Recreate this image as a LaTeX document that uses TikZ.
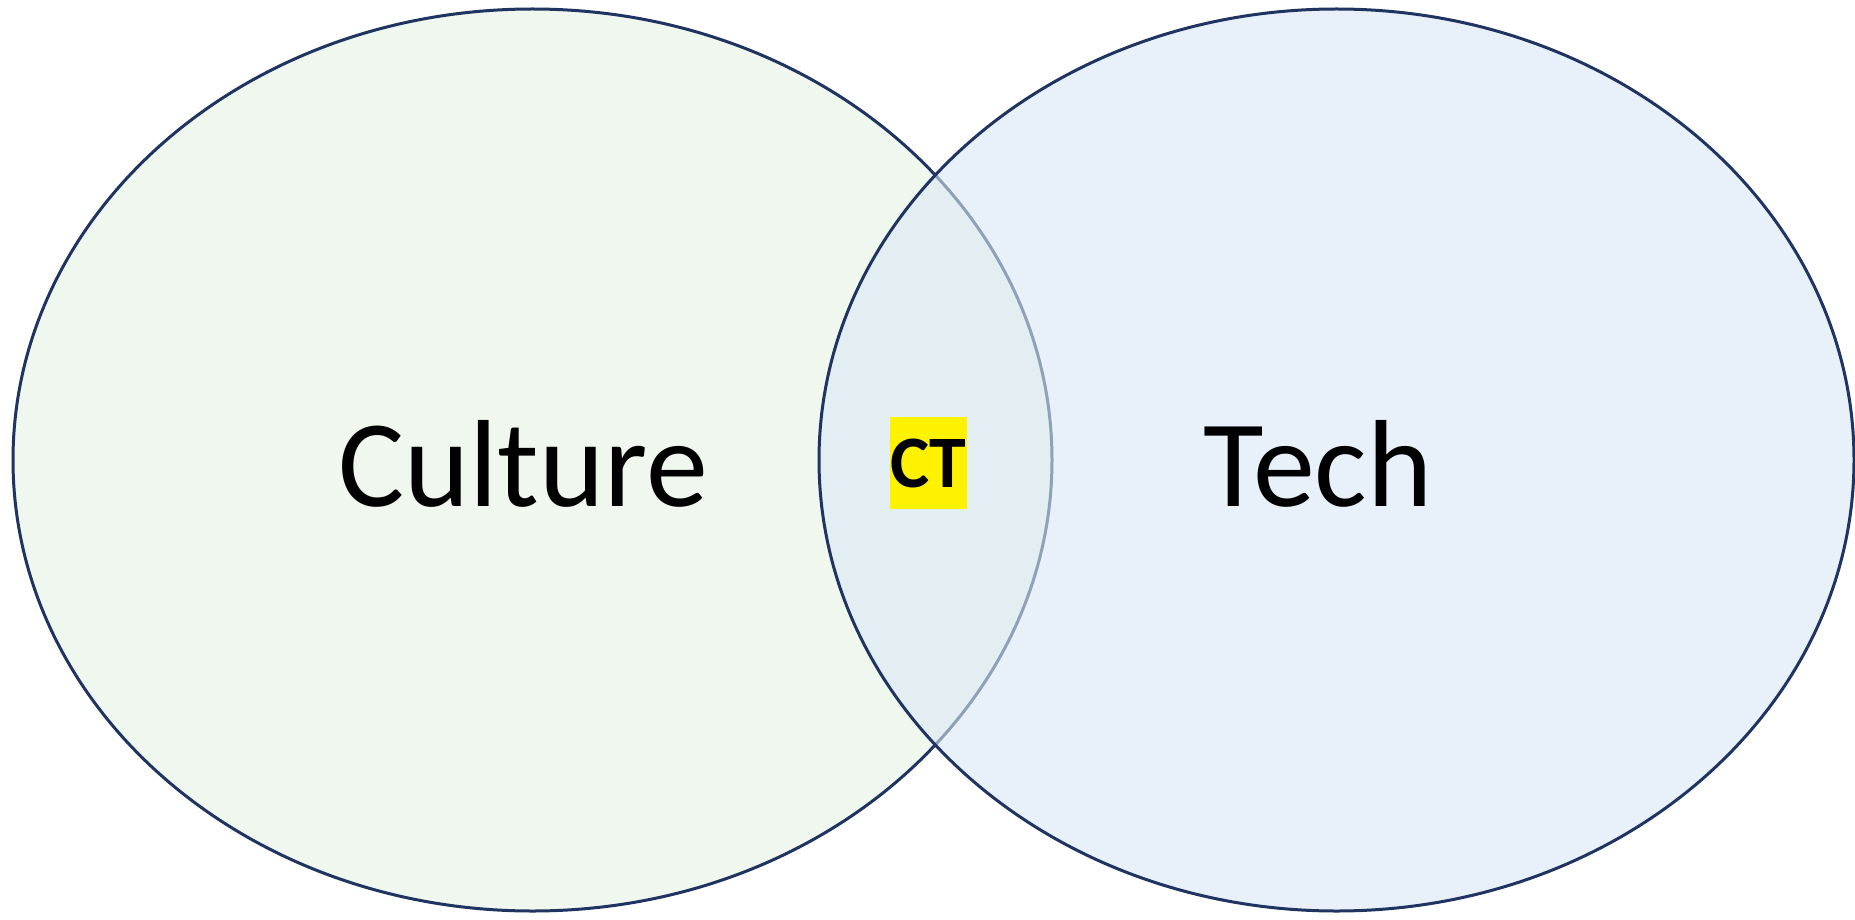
\documentclass[tikz,border=0pt]{standalone}
\usepackage{fontspec}
\usetikzlibrary{shapes.geometric}
\setmainfont{Carlito}
\definecolor{outl}{RGB}{31,52,96}
\definecolor{leftfill}{RGB}{240,247,238}
\definecolor{rightfill}{RGB}{218,232,245}
\begin{document}
\begin{tikzpicture}[x=1pt,y=-1pt,
  venn/.style={ellipse,draw=outl,line width=3pt,inner sep=0pt,minimum height=902pt},
  biglabel/.style={anchor=base,inner sep=0pt,font=\fontsize{124}{124}\selectfont,text=black},
  ctlabel/.style={fill=yellow,inner sep=0pt,minimum width=77pt,minimum height=92pt,font=\fontsize{74}{74}\bfseries\selectfont,text=black}]
\useasboundingbox (0,0) rectangle (1855,920);
\fill[white] (0,0) rectangle (1855,920);
\node[venn,fill=leftfill,minimum width=1039pt] (left) at (532.5,460) {};
\node[venn,fill=rightfill,fill opacity=0.6,draw opacity=1,minimum width=1035pt] (right) at (1336.5,460) {};
\node[biglabel] (culture) at (523,506) {Culture};
\node[biglabel] (tech) at (1318,506) {Tech};
\node[ctlabel] (ct) at (928.5,463) {CT};
\end{tikzpicture}
\end{document}
